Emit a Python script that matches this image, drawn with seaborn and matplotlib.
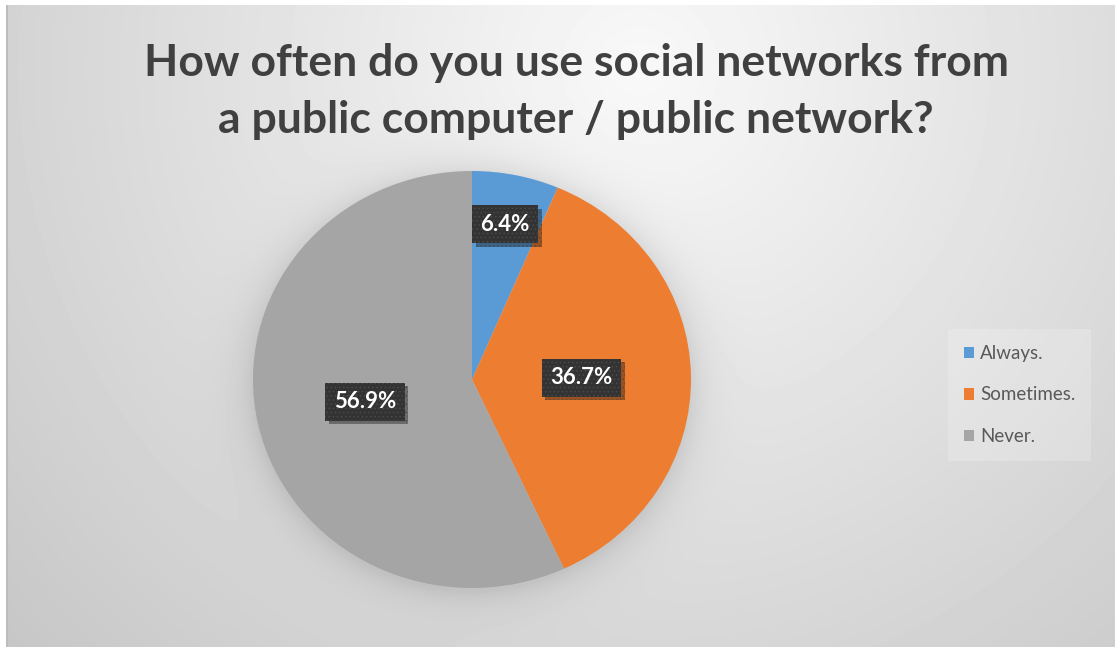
import numpy as np
import matplotlib
matplotlib.use("Agg")
import matplotlib.pyplot as plt
import matplotlib.patheffects as pe
import seaborn as sns

# Survey answers and their shares (percent)
categories = ["Always.", "Sometimes.", "Never."]
shares = [6.4, 36.7, 56.9]
slice_colors = ["#5B9BD5", "#ED7D31", "#A5A5A5"]
title_lines = ["How often do you use social networks from",
               "a public computer / public network?"]

W, H = 1115, 647
sns.set_theme(style="white")
plt.rcParams["font.family"] = ["Lato", "DejaVu Sans"]
plt.rcParams["hatch.linewidth"] = 0.6

palette = sns.color_palette(slice_colors)

fig = plt.figure(figsize=(W / 100, H / 100), dpi=100, facecolor="white")

# pie geometry in figure pixels (centre and radii)
cx, cy, rx, ry = 472, 379.5, 219, 208.5

# --- background panel: soft radial gradient plus a halo around the pie ---
px0, py0 = 6, 5
bg = fig.add_axes([px0 / W, 0, 1 - px0 / W, (H - py0) / H])
xs = np.arange(px0, W) + 0.5
ys = np.arange(py0, H) + 0.5
X, Y = np.meshgrid(xs, ys)
dist = np.hypot(X - 640, Y - 70)
shade = 0.975 - 0.00023 * dist
rn = np.hypot((X - cx) / rx, (Y - cy - 3) / ry)
edge = (rn - 1) * 214
halo = np.where(edge > 0, 0.09 * np.exp(-np.clip(edge, 0, None) / 18), 0.09)
shade = np.clip(shade - halo, 0, 1)
bg.imshow(shade, cmap="gray", vmin=0, vmax=1, extent=(px0, W, H, py0),
          aspect="auto", interpolation="bilinear")
bg.plot([px0 + 0.5, px0 + 0.5], [py0, H], color="#bdbdbd", lw=1.5)
bg.set_xlim(px0, W)
bg.set_ylim(H, py0)
bg.axis("off")

# --- pie ---
pie_ax = fig.add_axes([(cx - rx) / W, (H - (cy + ry)) / H, 2 * rx / W, 2 * ry / H])
wedges, texts, autotexts = pie_ax.pie(
    shares, colors=palette, startangle=90, counterclock=False,
    autopct=lambda p: f"{p:.1f}%", pctdistance=0.5,
    wedgeprops=dict(linewidth=0),
    textprops=dict(color="white", fontsize=16, fontweight="bold"),
)
pie_ax.set_aspect("auto")
pie_ax.set_xlim(-1, 1)
pie_ax.set_ylim(-1, 1)
pie_ax.axis("off")

for w, t in zip(wedges, autotexts):
    if abs(w.theta2 - w.theta1) < 30:
        mid = np.deg2rad((w.theta1 + w.theta2) / 2)
        t.set_position((0.76 * np.cos(mid), 0.76 * np.sin(mid)))
    t.set_bbox(dict(boxstyle="square,pad=0.38", facecolor="#333333",
                    edgecolor="#4a4a4a", linewidth=0, hatch="...."))
    t.get_bbox_patch().set_path_effects([
        pe.SimplePatchShadow(offset=(2.5, -2.5), shadow_rgbFace="black", alpha=0.35),
        pe.Normal(),
    ])

# --- legend ---
leg = pie_ax.legend(
    wedges, categories, loc="center left",
    bbox_to_anchor=(948 / W, 1 - 395 / H), bbox_transform=fig.transFigure,
    frameon=True, fontsize=13.5, handlelength=0.55, handleheight=0.55,
    handletextpad=0.3, labelspacing=1.3, borderpad=0.85, borderaxespad=0,
    labelcolor="#595959", fancybox=False, facecolor="white", framealpha=0.2,
    edgecolor="none",
)

# --- title ---
for line, base in zip(title_lines, [76, 133]):
    fig.text(576 / W, 1 - base / H, line, ha="center", va="baseline",
             fontsize=32, fontweight="bold", color="#404040")

fig.savefig("out.png", dpi=100, facecolor=fig.get_facecolor())
